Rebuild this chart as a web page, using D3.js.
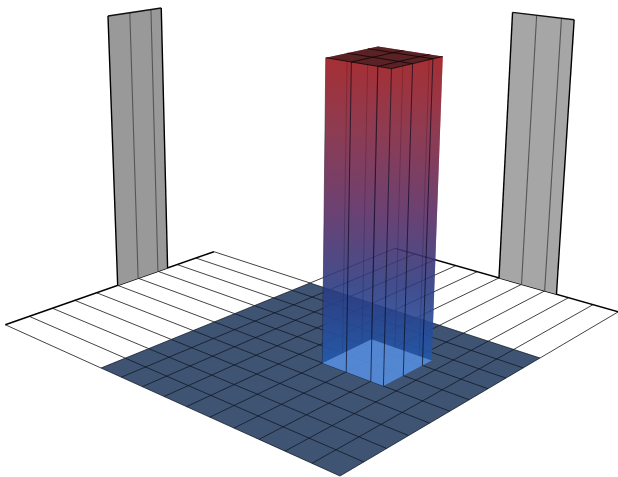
<!DOCTYPE html>
<html>
<head>
<meta charset="utf-8">
<script src="https://cdn.jsdelivr.net/npm/d3@7"></script>
<style>
    body { margin: 0; background: white; }
    svg { display: block; }
</style>
</head>
<body>
<div id="chart"></div>
<script>
// Grid of the floor, both directions share the same ticks.
const gridTicks = [0, 0.1, 0.2, 0.3, 0.4, 0.5, 0.6, 0.7, 0.8, 0.9, 1]
const stripEnd = 1.52

// The column stands on this patch of the floor.
const columnU = [0.25, 0.3, 0.4, 0.5]
const columnV = [0.5, 0.6, 0.7, 0.75]
const columnHeight = 1
const wallHeight = 1.02

// Colour along the height of the column.
const colourHeights = [0, 0.25, 0.5, 0.75, 1]
const colourStops = ['#2259ac', '#2c3a80', '#5c2c62', '#80263f', '#9c181c']

const width = 618
const height = 477

// Camera, fitted on the floor corners and the tops of the walls.
const camera = {
    xu: -219.17, xv: 317.45, xz: -22, x0: 340,
    yu: -35.76, yv: -40.13, yz: -373, y0: 476,
    wu: 0.1963, wv: 0.2175, wz: -0.08
}

function project(u, v, z) {
    const w = camera.wu * u + camera.wv * v + camera.wz * z + 1
    return [
        (camera.xu * u + camera.xv * v + camera.xz * z + camera.x0) / w,
        (camera.yu * u + camera.yv * v + camera.yz * z + camera.y0) / w
    ]
}

const svg = d3.select('#chart')
    .append('svg')
    .attr('width', width)
    .attr('height', height)

const line = d3.line()
const closed = d3.line().curve(d3.curveLinearClosed)

const segment = (a, b) => line([project(...a), project(...b)])
const quad = pts => closed(pts.map(p => project(...p)))

// Gradient runs in screen space from the foot to the head of the column.
const midU = d3.mean(d3.extent(columnU))
const midV = d3.mean(d3.extent(columnV))
const foot = project(midU, midV, 0)
const head = project(midU, midV, columnHeight)
const colour = d3.scaleLinear().domain(colourHeights).range(colourStops)

const grad = svg.append('defs').append('linearGradient')
    .attr('id', 'columnGradient')
    .attr('gradientUnits', 'userSpaceOnUse')
    .attr('x1', foot[0]).attr('y1', foot[1])
    .attr('x2', head[0]).attr('y2', head[1])
grad.selectAll('stop')
    .data(colourHeights)
    .join('stop')
    .attr('offset', d => d)
    .attr('stop-color', d => colour(d))

// Floor: white strips behind the blue square.
const floor = svg.append('g')

floor.append('path')
    .attr('d', quad([[0, 0, 0], [1, 0, 0], [1, 1, 0], [0, 1, 0]]))
    .attr('fill', '#3f5372')

const cellLines = []
gridTicks.forEach(t => {
    cellLines.push([[t, 0, 0], [t, 1, 0]])
    cellLines.push([[0, t, 0], [1, t, 0]])
})
floor.selectAll('.cell-line')
    .data(cellLines)
    .join('path')
    .attr('class', 'cell-line')
    .attr('d', d => segment(d[0], d[1]))
    .attr('stroke', '#0b1320')
    .attr('stroke-opacity', 0.8)
    .attr('stroke-width', 0.9)
    .attr('fill', 'none')

const stripLines = []
gridTicks.forEach(t => {
    stripLines.push([[1, t, 0], [stripEnd, t, 0]])
    stripLines.push([[t, 1, 0], [t, stripEnd, 0]])
})
floor.selectAll('.strip-line')
    .data(stripLines)
    .join('path')
    .attr('class', 'strip-line')
    .attr('d', d => segment(d[0], d[1]))
    .attr('stroke', '#222')
    .attr('stroke-opacity', 0.85)
    .attr('stroke-width', 1)
    .attr('fill', 'none')

// Outer edges of the strips are heavier.
const outerEdges = [
    [[stripEnd, 0, 0], [stripEnd, 1, 0]],
    [[0, stripEnd, 0], [1, stripEnd, 0]]
]
floor.selectAll('.outer-edge')
    .data(outerEdges)
    .join('path')
    .attr('class', 'outer-edge')
    .attr('d', d => segment(d[0], d[1]))
    .attr('stroke', '#000')
    .attr('stroke-width', 1.5)
    .attr('fill', 'none')

// Walls: shadows of the column on the outer edges.
const walls = [
    {fill: '#999999', pts: columnV.map(v => [stripEnd, v])},
    {fill: '#a6a6a6', pts: columnU.map(u => [u, stripEnd])}
]
walls.forEach(w => {
    const first = w.pts[0]
    const last = w.pts[w.pts.length - 1]
    const g = svg.append('g')

    g.append('path')
        .attr('d', quad([[...first, 0], [...last, 0], [...last, wallHeight], [...first, wallHeight]]))
        .attr('fill', w.fill)

    g.selectAll('.wall-line')
        .data(w.pts)
        .join('path')
        .attr('class', 'wall-line')
        .attr('d', d => segment([...d, 0], [...d, wallHeight]))
        .attr('stroke', (d, i) => i === 0 || i === w.pts.length - 1 ? '#000' : '#555')
        .attr('stroke-width', (d, i) => i === 0 || i === w.pts.length - 1 ? 1.4 : 1.1)
        .attr('fill', 'none')

    g.append('path')
        .attr('d', segment([...first, wallHeight], [...last, wallHeight]))
        .attr('stroke', '#111')
        .attr('stroke-width', 1.4)
})

// Column, back to front.
const column = svg.append('g')
const uMin = columnU[0], uMax = columnU[3]
const vMin = columnV[0], vMax = columnV[3]

const backFaces = [
    {ticks: columnU.slice(1).map(u => [u, vMax]), corners: [[uMin, vMax], [uMax, vMax]]},
    {ticks: columnV.slice(0, 3).map(v => [uMax, v]), corners: [[uMax, vMin], [uMax, vMax]]}
]
// The silhouette corners of the front faces carry no line.
const frontFaces = [
    {ticks: columnU.slice(0, 3).map(u => [u, vMin]), corners: [[uMin, vMin], [uMax, vMin]]},
    {ticks: columnV.slice(1, 3).map(v => [uMin, v]), corners: [[uMin, vMin], [uMin, vMax]]}
]

function drawFills(faces, opacity) {
    faces.forEach(f => {
        const a = f.corners[0], b = f.corners[1]
        column.append('path')
            .attr('d', quad([[...a, 0], [...b, 0], [...b, columnHeight], [...a, columnHeight]]))
            .attr('fill', 'url(#columnGradient)')
            .attr('fill-opacity', opacity)
    })
}

function drawTicks(faces, lineOpacity) {
    faces.forEach(f => {
        column.append('g').selectAll('path')
            .data(f.ticks)
            .join('path')
            .attr('d', d => segment([...d, 0], [...d, columnHeight]))
            .attr('stroke', '#0a0a1e')
            .attr('stroke-opacity', lineOpacity)
            .attr('stroke-width', 1)
    })
}

drawFills(backFaces, 0.6)
drawTicks(backFaces, 0.5)
drawFills(frontFaces, 0.75)

// Foot of the column shows up lighter.
column.append('path')
    .attr('d', quad([[uMin, vMin, 0], [uMax, vMin, 0], [uMax, vMax, 0], [uMin, vMax, 0]]))
    .attr('fill', '#6297e4')
    .attr('fill-opacity', 0.75)

drawTicks(frontFaces, 0.7)

// Head of the column.
column.append('path')
    .attr('d', quad([[uMin, vMin, columnHeight], [uMax, vMin, columnHeight], [uMax, vMax, columnHeight], [uMin, vMax, columnHeight]]))
    .attr('fill', '#561f22')
    .attr('fill-opacity', 0.97)

const headLines = []
columnU.slice(1, 3).forEach(u => headLines.push([[u, vMin, columnHeight], [u, vMax, columnHeight]]))
columnV.slice(1, 3).forEach(v => headLines.push([[uMin, v, columnHeight], [uMax, v, columnHeight]]))
headLines.push([[uMin, vMin, columnHeight], [uMax, vMin, columnHeight]])
headLines.push([[uMin, vMin, columnHeight], [uMin, vMax, columnHeight]])
column.append('g').selectAll('path')
    .data(headLines)
    .join('path')
    .attr('d', d => segment(d[0], d[1]))
    .attr('stroke', '#140506')
    .attr('stroke-opacity', 0.85)
    .attr('stroke-width', 1)
</script>
</body>
</html>
